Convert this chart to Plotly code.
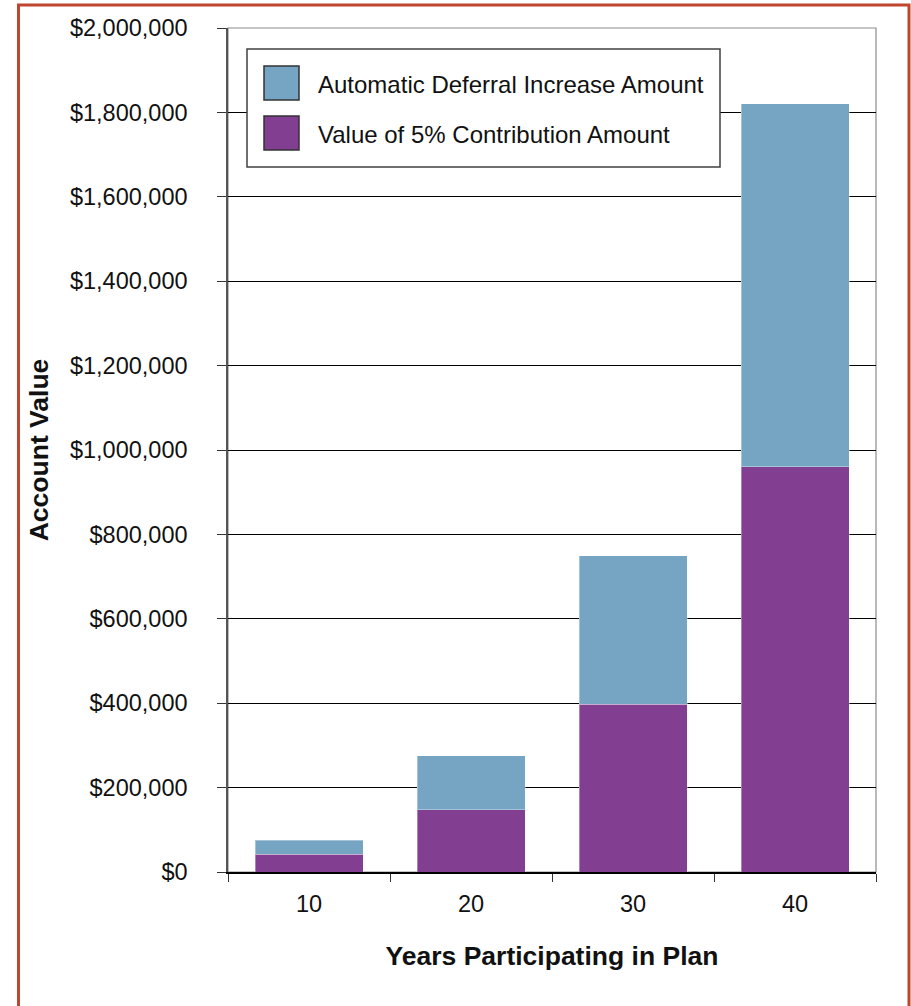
import plotly.graph_objects as go

years = ["10", "20", "30", "40"]
base_name = "Value of 5% Contribution Amount"
incr_name = "Automatic Deferral Increase Amount"
base_values = [42000, 148000, 397000, 960000]
incr_values = [33000, 128000, 352000, 861000]
y_ticks = [0, 200000, 400000, 600000, 800000, 1000000, 1200000, 1400000, 1600000, 1800000, 2000000]
y_tick_labels = ["$" + format(v, ",") for v in y_ticks]

BLUE = "#75A5C3"
PURPLE = "#823F91"

W, H = 911, 1006
ML, MR, MT, MB = 228, 35, 28, 134
PW, PH = W - ML - MR, H - MT - MB


def px(x):
    return (x - ML) / PW


def py(y):
    return (H - MB - y) / PH


fig = go.Figure()
fig.add_trace(go.Bar(x=years, y=base_values, name=base_name, marker_color=PURPLE,
                     marker_line=dict(color="rgba(255,255,255,0.35)", width=1), showlegend=False))
fig.add_trace(go.Bar(x=years, y=incr_values, name=incr_name, marker_color=BLUE,
                     marker_line=dict(color="rgba(255,255,255,0.35)", width=1), showlegend=False))

shapes = []
# outer frame
shapes.append(dict(type="rect", xref="paper", yref="paper", x0=px(18.5), x1=px(909), y0=py(1012), y1=py(5),
                   line=dict(color="#C0452F", width=3), layer="below"))
# plot area border
shapes.append(dict(type="rect", xref="paper", yref="paper", x0=0, x1=1, y0=0, y1=1,
                   line=dict(color="#8c8c8c", width=1.2), layer="below"))
# legend box
shapes.append(dict(type="rect", xref="paper", yref="paper", x0=px(247), x1=px(720), y0=py(167), y1=py(49),
                   line=dict(color="#404040", width=1.5), fillcolor="white", layer="above"))
legend_rows = [(incr_name, BLUE, 83), (base_name, PURPLE, 133)]
annotations = []
for name, col, cy in legend_rows:
    shapes.append(dict(type="rect", xref="paper", yref="paper", x0=px(264), x1=px(299), y0=py(cy + 17), y1=py(cy - 17),
                       line=dict(color="#333333", width=1.5), fillcolor=col, layer="above"))
    annotations.append(dict(xref="paper", yref="paper", x=px(316), y=py(cy + 1), text=name, showarrow=False,
                            xanchor="left", yanchor="middle",
                            font=dict(family="Liberation Sans, Arial, sans-serif", size=24, color="#111111")))

fig.update_layout(
    width=W, height=H,
    margin=dict(l=ML, r=MR, t=MT, b=MB),
    paper_bgcolor="white", plot_bgcolor="white",
    barmode="stack", bargap=1/3,
    font=dict(family="Liberation Sans, Arial, sans-serif", color="#111111"),
    shapes=shapes, annotations=annotations,
    xaxis=dict(type="category", tickson="boundaries", ticks="outside", ticklen=8, tickcolor="#333333",
               showline=True, linecolor="#000000", linewidth=1.5, showgrid=False,
               tickfont=dict(size=23.5), ticklabelstandoff=10,
               title=dict(text="<b>Years Participating in Plan</b>", font=dict(size=26.5), standoff=30)),
    yaxis=dict(range=[0, 2000000], tickmode="array", tickvals=y_ticks, ticktext=y_tick_labels,
               ticks="outside", ticklen=9, tickcolor="#333333",
               showline=True, linecolor="#555555", linewidth=1.5,
               showgrid=True, gridcolor="#000000", gridwidth=1, zeroline=False,
               tickfont=dict(size=23.5), ticklabelstandoff=25,
               title=dict(text="<b>Account Value</b>", font=dict(size=26.5), standoff=14)),
)

fig.write_html("out.html")
